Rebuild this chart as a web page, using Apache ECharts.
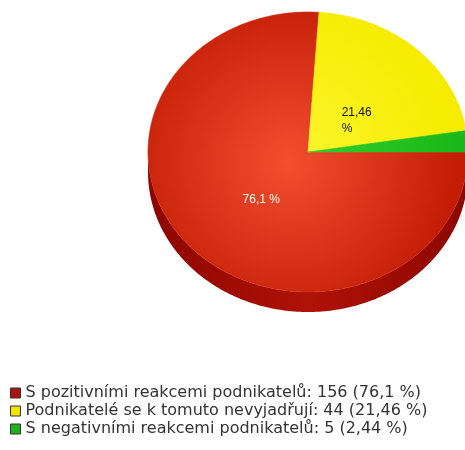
<!DOCTYPE html>
<html lang="cs">
<head>
<meta charset="utf-8">
<title>Reakce podnikatelů</title>
<script src="https://cdn.jsdelivr.net/npm/echarts@6/dist/echarts.min.js"></script>
<style>
  html, body { margin: 0; padding: 0; background: #fff; }
  #chart { width: 465px; height: 450px; }
</style>
</head>
<body>
<div id="chart"></div>
<script>
// data
var names = ['S pozitivními reakcemi podnikatelů', 'Podnikatelé se k tomuto nevyjadřují', 'S negativními reakcemi podnikatelů'];
var counts = [156, 44, 5];

// colours: legend square, face gradient (centre, edge), side
var legendColors = ['#a8140e', '#f0e400', '#1eb01e'];
var faceColors = [['#f24e2f', '#c41d06'], ['#fcf630', '#f5ec00'], ['#38d02e', '#1ab818']];
var sideColors = [['#8c0600', '#b01206'], ['#b0a800', '#d0c800'], ['#108010', '#18a018']];
var labelColors = ['#ffffff', '#111111', '#111111'];

// pseudo 3d pie geometry
var CX = 308, CY = 152, RX = 160, RY = 140, DEPTH = 20, START = 0;

var total = counts.reduce(function (a, b) { return a + b; }, 0);

function pct(v) {
  return parseFloat((v / total * 100).toFixed(2)).toString().replace('.', ',');
}

function pt(deg, dy) {
  var r = deg * Math.PI / 180;
  return [CX + RX * Math.cos(r), CY - RY * Math.sin(r) + (dy || 0)];
}

// points along the rim, going clockwise from a1 down to a2
function arc(a1, a2, dy) {
  var out = [];
  for (var a = a1; a > a2; a -= 1) out.push(pt(a, dy));
  out.push(pt(a2, dy));
  return out;
}

function renderSlice(i) {
  return function (params, api) {
    var before = 0;
    for (var j = 0; j < i; j++) before += counts[j];
    var a1 = START - before / total * 360;
    var a2 = a1 - counts[i] / total * 360;
    var children = [];

    // side wall, only the part on the lower half of the ellipse shows
    for (var k = -2; k <= 1; k++) {
      var lo = Math.max(a2, -180 + 360 * k), hi = Math.min(a1, 360 * k);
      if (hi - lo <= 0) continue;
      var top = arc(hi, lo, 0);
      var bottom = arc(hi, lo, DEPTH).reverse();
      children.push({
        type: 'polygon',
        shape: { points: top.concat(bottom) },
        style: {
          fill: {
            type: 'linear', x: CX - RX, y: 0, x2: CX + RX, y2: 0, global: true,
            colorStops: [
              { offset: 0, color: sideColors[i][0] },
              { offset: 0.5, color: sideColors[i][1] },
              { offset: 1, color: sideColors[i][0] }
            ]
          }
        }
      });
    }

    // top face
    var face = {
      type: 'radial', x: CX - 20, y: CY + 10, r: RX * 1.05, global: true,
      colorStops: [
        { offset: 0, color: faceColors[i][0] },
        { offset: 1, color: faceColors[i][1] }
      ]
    };
    children.push({
      type: 'polygon',
      shape: { points: [[CX, CY]].concat(arc(a1, a2, 0)) },
      style: { fill: face, stroke: face, lineWidth: 0.6 }
    });

    // percentage label inside the slice
    if (counts[i] / total > 0.05) {
      var mid = (a1 + a2) / 2;
      var r = mid * Math.PI / 180;
      children.push({
        type: 'text',
        x: CX + RX * 0.44 * Math.cos(r) - 14,
        y: CY - RY * 0.44 * Math.sin(r) - 2,
        style: {
          text: pct(counts[i]) + ' %',
          fill: labelColors[i],
          font: '12px "Liberation Sans", Arial, sans-serif',
          width: counts[i] / total < 0.3 ? 34 : null,
          overflow: 'break',
          lineHeight: 16,
          textAlign: 'left',
          textVerticalAlign: 'top'
        }
      });
    }
    return { type: 'group', children: children };
  };
}

var chart = echarts.init(document.getElementById('chart'));

chart.setOption({
  animation: false,
  color: legendColors,
  legend: {
    data: names,
    orient: 'vertical',
    left: 10,
    top: 385,
    padding: 0,
    itemGap: 2,
    itemWidth: 10,
    itemHeight: 10,
    icon: 'rect',
    itemStyle: { borderColor: '#333', borderWidth: 1 },
    textStyle: {
      fontFamily: '"DejaVu Sans", sans-serif',
      fontSize: 16,
      lineHeight: 16,
      color: '#333',
      padding: [0, 0, 0, 0]
    },
    formatter: function (name) {
      var i = names.indexOf(name);
      return name + ': ' + counts[i] + ' (' + pct(counts[i]) + ' %)';
    }
  },
  series: names.map(function (n, i) {
    return {
      type: 'custom',
      name: n,
      coordinateSystem: 'none',
      silent: true,
      data: [[counts[i]]],
      renderItem: renderSlice(i)
    };
  })
});
</script>
</body>
</html>
